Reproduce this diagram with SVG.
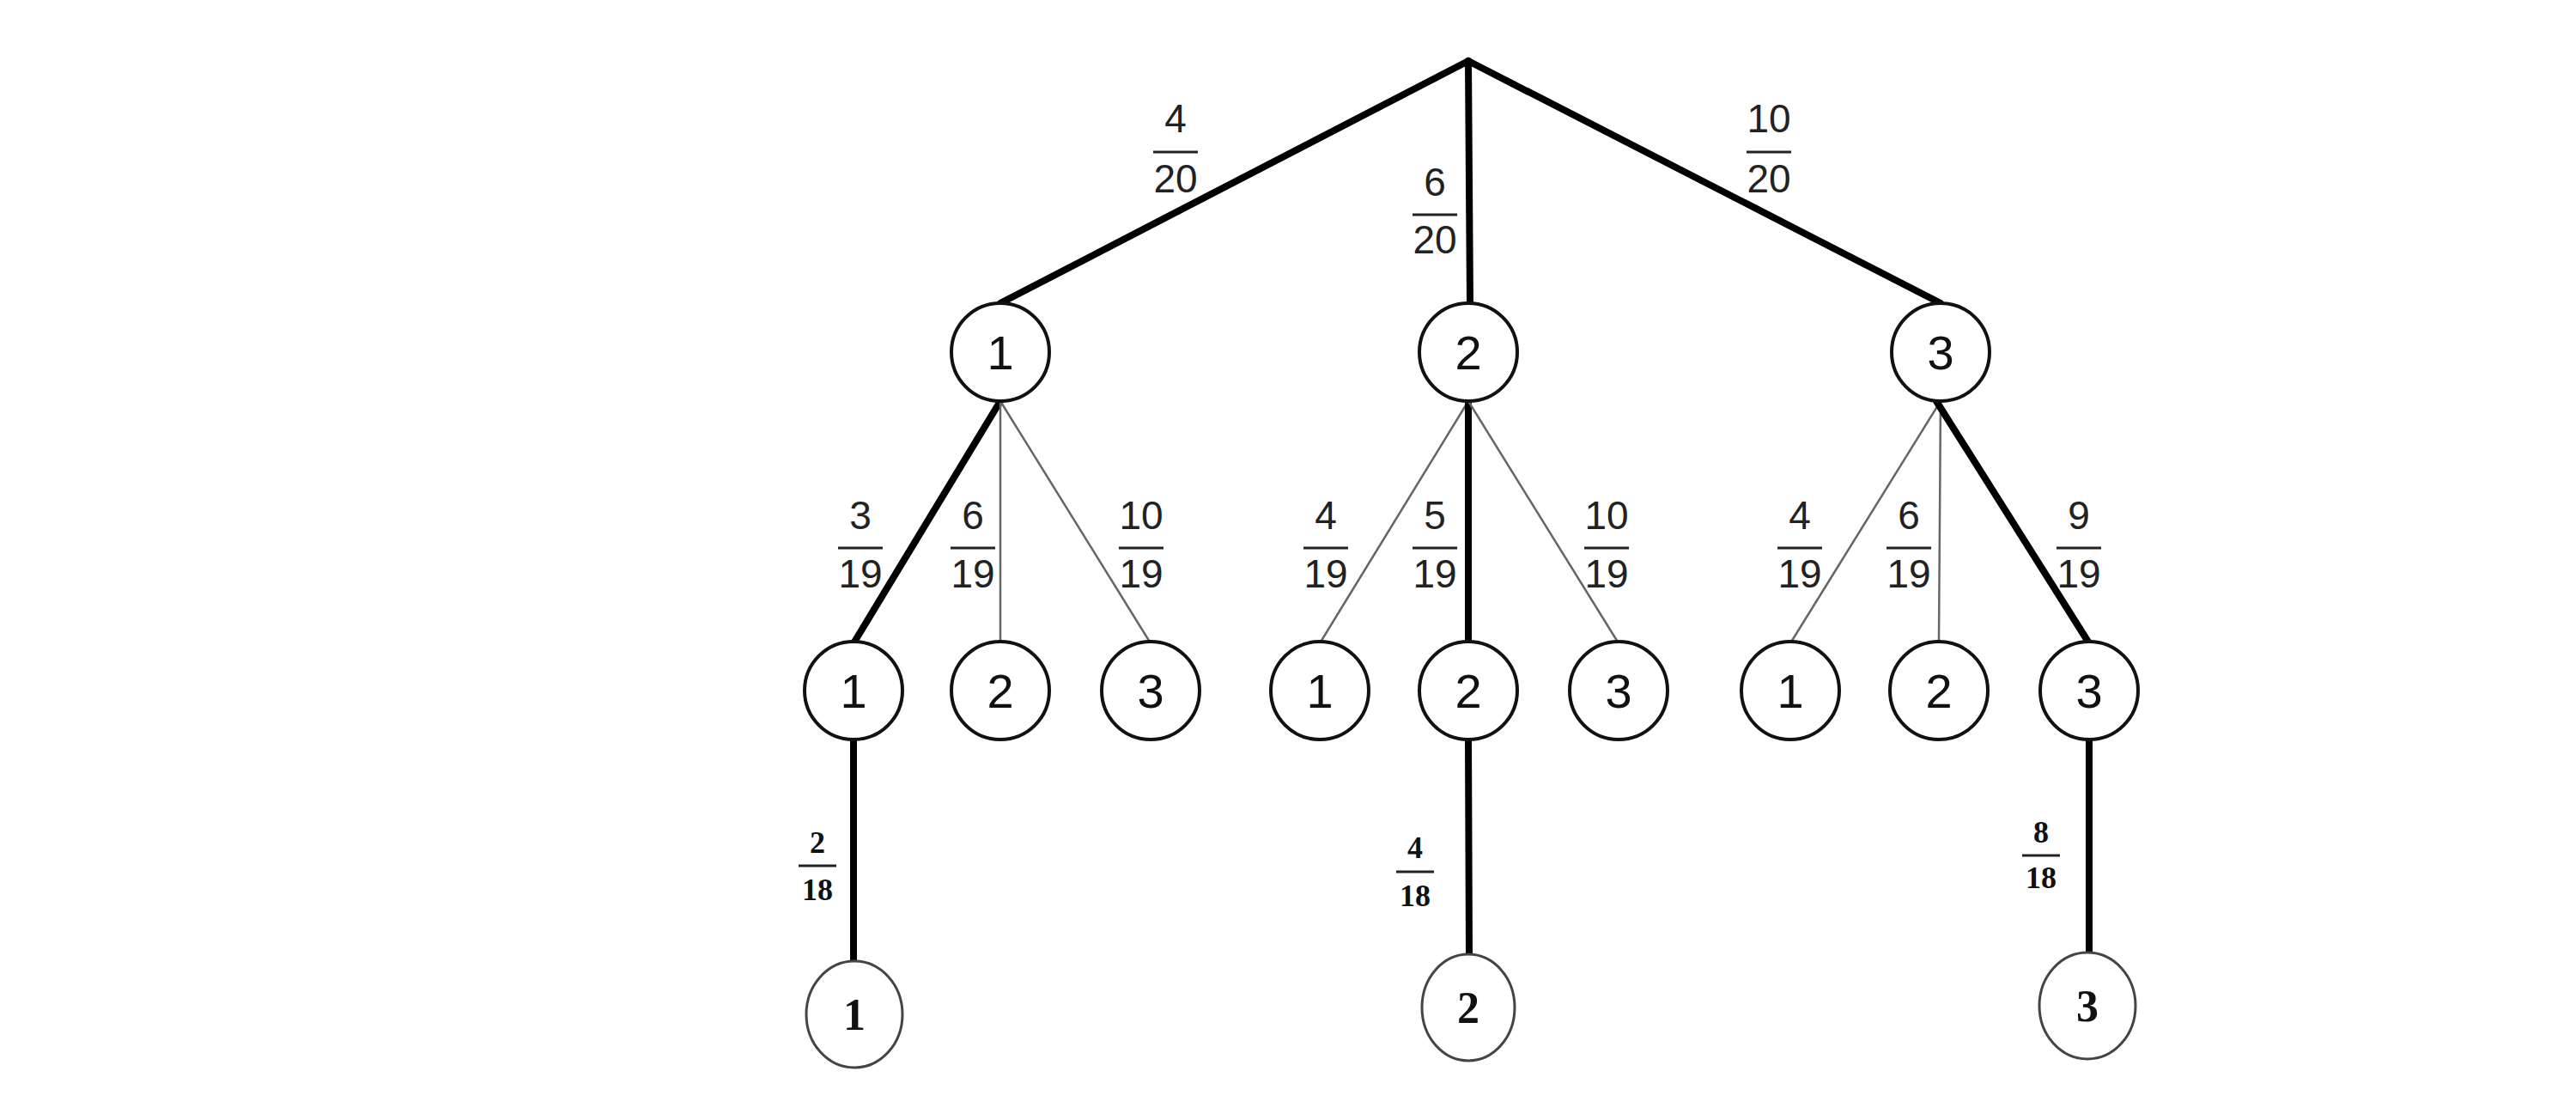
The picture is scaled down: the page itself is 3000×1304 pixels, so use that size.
<svg xmlns="http://www.w3.org/2000/svg" width="3000" height="1304" viewBox="0 0 3000 1304">
<style>
.n{fill:#fff;stroke:#111;stroke-width:4}
.e{fill:#fff;stroke:#444;stroke-width:3}
.t{font-family:"Liberation Sans",Arial,sans-serif;font-size:56px;text-anchor:middle;dominant-baseline:central;fill:#111}
.s{font-family:"Liberation Serif","Times New Roman",serif;font-weight:bold;font-size:52px;text-anchor:middle;dominant-baseline:central;fill:#111}
.f{font-family:"Liberation Sans",Arial,sans-serif;font-size:46px;text-anchor:middle;dominant-baseline:central;fill:#222}
.fs{font-family:"Liberation Serif","Times New Roman",serif;font-weight:bold;font-size:36px;text-anchor:middle;dominant-baseline:central;fill:#111}
.k{stroke:#000;stroke-width:8;stroke-linecap:round;fill:none}
.h{stroke:#666;stroke-width:2.5;fill:none}
.b{stroke:#222;stroke-width:3}
</style>
<g id="connectors">
<line class="k" x1="1710" y1="71" x2="1165" y2="353"/>
<line class="k" x1="1710" y1="71" x2="1712" y2="353"/>
<line class="k" x1="1710" y1="71" x2="2260" y2="353"/>
<line class="k" x1="1165" y1="467" x2="994" y2="749"/>
<line class="h" x1="1165" y1="467" x2="1165" y2="747"/>
<line class="h" x1="1165" y1="467" x2="1340" y2="749"/>
<line class="h" x1="1710" y1="467" x2="1537" y2="749"/>
<line class="k" x1="1710" y1="467" x2="1710" y2="747"/>
<line class="h" x1="1710" y1="467" x2="1885" y2="749"/>
<line class="h" x1="2260" y1="467" x2="2085" y2="749"/>
<line class="h" x1="2260" y1="467" x2="2258" y2="747"/>
<line class="k" x1="2255" y1="467" x2="2433" y2="749"/>
<line class="k" x1="994" y1="861" x2="994" y2="1119"/>
<line class="k" x1="1710" y1="861" x2="1711" y2="1111"/>
<line class="k" x1="2433" y1="861" x2="2433" y2="1109"/>
</g>
<g id="root-labels">
<text class="f" x="1369" y="138">4</text><line class="b" x1="1343" y1="177" x2="1395" y2="177"/><text class="f" x="1369" y="208">20</text>
<text class="f" x="1671" y="212">6</text><line class="b" x1="1645" y1="250" x2="1697" y2="250"/><text class="f" x="1671" y="279">20</text>
<text class="f" x="2060" y="138">10</text><line class="b" x1="2034" y1="177" x2="2086" y2="177"/><text class="f" x="2060" y="208">20</text>
</g>
<g id="level2-labels">
<text class="f" x="1002" y="600">3</text><line class="b" x1="976" y1="638" x2="1028" y2="638"/><text class="f" x="1002" y="668">19</text>
<text class="f" x="1133" y="600">6</text><line class="b" x1="1107" y1="638" x2="1159" y2="638"/><text class="f" x="1133" y="668">19</text>
<text class="f" x="1329" y="600">10</text><line class="b" x1="1303" y1="638" x2="1355" y2="638"/><text class="f" x="1329" y="668">19</text>
<text class="f" x="1544" y="600">4</text><line class="b" x1="1518" y1="638" x2="1570" y2="638"/><text class="f" x="1544" y="668">19</text>
<text class="f" x="1671" y="600">5</text><line class="b" x1="1645" y1="638" x2="1697" y2="638"/><text class="f" x="1671" y="668">19</text>
<text class="f" x="1871" y="600">10</text><line class="b" x1="1845" y1="638" x2="1897" y2="638"/><text class="f" x="1871" y="668">19</text>
<text class="f" x="2096" y="600">4</text><line class="b" x1="2070" y1="638" x2="2122" y2="638"/><text class="f" x="2096" y="668">19</text>
<text class="f" x="2223" y="600">6</text><line class="b" x1="2197" y1="638" x2="2249" y2="638"/><text class="f" x="2223" y="668">19</text>
<text class="f" x="2421" y="600">9</text><line class="b" x1="2395" y1="638" x2="2447" y2="638"/><text class="f" x="2421" y="668">19</text>
</g>
<g id="level3-labels">
<text class="fs" x="952" y="981">2</text><line class="b" x1="930" y1="1008" x2="974" y2="1008"/><text class="fs" x="952" y="1036">18</text>
<text class="fs" x="1648" y="987">4</text><line class="b" x1="1626" y1="1015" x2="1670" y2="1015"/><text class="fs" x="1648" y="1043">18</text>
<text class="fs" x="2377" y="969">8</text><line class="b" x1="2355" y1="996" x2="2399" y2="996"/><text class="fs" x="2377" y="1022">18</text>
</g>
<g id="n1"><circle class="n" cx="1165" cy="410" r="57"/><text class="t" x="1165" y="410">1</text></g>
<g id="n2"><circle class="n" cx="1710" cy="410" r="57"/><text class="t" x="1710" y="410">2</text></g>
<g id="n3"><circle class="n" cx="2260" cy="410" r="57"/><text class="t" x="2260" y="410">3</text></g>
<g id="n11"><circle class="n" cx="994" cy="804" r="57"/><text class="t" x="994" y="804">1</text></g>
<g id="n12"><circle class="n" cx="1165" cy="804" r="57"/><text class="t" x="1165" y="804">2</text></g>
<g id="n13"><circle class="n" cx="1340" cy="804" r="57"/><text class="t" x="1340" y="804">3</text></g>
<g id="n21"><circle class="n" cx="1537" cy="804" r="57"/><text class="t" x="1537" y="804">1</text></g>
<g id="n22"><circle class="n" cx="1710" cy="804" r="57"/><text class="t" x="1710" y="804">2</text></g>
<g id="n23"><circle class="n" cx="1885" cy="804" r="57"/><text class="t" x="1885" y="804">3</text></g>
<g id="n31"><circle class="n" cx="2085" cy="804" r="57"/><text class="t" x="2085" y="804">1</text></g>
<g id="n32"><circle class="n" cx="2258" cy="804" r="57"/><text class="t" x="2258" y="804">2</text></g>
<g id="n33"><circle class="n" cx="2433" cy="804" r="57"/><text class="t" x="2433" y="804">3</text></g>
<g id="n111"><ellipse class="e" cx="995" cy="1181" rx="56" ry="62"/><text class="s" x="995" y="1181">1</text></g>
<g id="n222"><ellipse class="e" cx="1710" cy="1173" rx="54" ry="62"/><text class="s" x="1710" y="1173">2</text></g>
<g id="n333"><ellipse class="e" cx="2431" cy="1171" rx="56" ry="62"/><text class="s" x="2431" y="1171">3</text></g>
</svg>
